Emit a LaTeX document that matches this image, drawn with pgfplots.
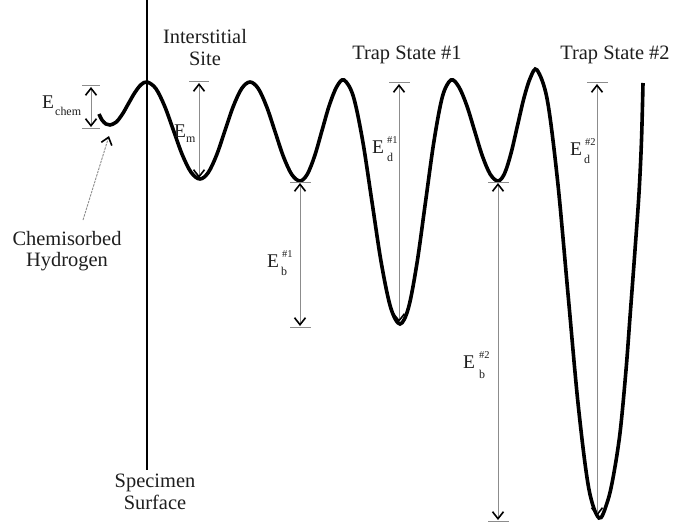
\documentclass[border=0pt]{standalone}
\usepackage{pgfplots}
\pgfplotsset{compat=1.18}
\usepackage{fontspec}
\setmainfont{Liberation Serif}
\usetikzlibrary{arrows.meta}
\definecolor{txt}{HTML}{1E1E1E}
\definecolor{shaft}{HTML}{8C8C8C}
\begin{document}
\begin{tikzpicture}[
  >={Straight Barb[length=7bp,width=11bp,line width=1.6bp,color=black]},
  lbl/.style={font=\fontsize{20.5}{23}\selectfont, text=txt, inner sep=0pt},
  elbl/.style={font=\fontsize{19.5}{22}\selectfont, text=txt, inner sep=0pt, anchor=base west},
  sub/.style={font=\fontsize{12}{13}\selectfont, text=txt, inner sep=0pt, anchor=base west},
  sup/.style={font=\fontsize{10.5}{12}\selectfont, text=txt, inner sep=0pt, anchor=base west},
  dim/.style={draw=shaft, line width=0.9bp},
  bar/.style={draw=shaft, line width=1bp},
]
\begin{axis}[
  hide axis, scale only axis,
  width=674bp, height=526bp,
  xmin=0, xmax=674, ymin=0, ymax=526,
  y dir=reverse, clip=false,
]
% specimen surface
\addplot[black, line width=2bp] coordinates {(147,0) (147,470)};
% potential energy curve
\addplot[black, line width=3.6bp, smooth, tension=0.55] coordinates {
 (99,114) (102,120) (106,124) (110,125)
 (116.2,122.1) (122.3,114.3) (128.5,103.5) (134.7,92.8) (140.8,84.9) (147,82)
 (155.8,88.5) (164.7,106.3) (173.5,130.5) (182.3,154.8) (191.2,172.5) (200,179)
 (208.3,172.5) (216.7,154.8) (225,130.5) (233.3,106.3) (241.7,88.5) (250,82)
 (258.3,88.6) (266.7,106.8) (275,131.5) (283.3,156.3) (291.7,174.4) (300,181)
 (307.3,174.2) (314.7,155.8) (322,130.5) (329.3,105.3) (336.7,86.8) (344,80)
 (353.3,96.3) (362.7,141) (372,202) (381.3,263) (390.7,307.7) (400,324)
 (408.5,307.7) (417,263) (425.5,202) (434,141) (442.5,96.3) (451,80)
 (458.8,86.8) (466.7,105.3) (474.5,130.5) (482.3,155.8) (490.2,174.2) (498,181)
 (504.5,173.6) (511,153.3) (517.5,125.5) (524,97.8) (530.5,77.4) (537,70)
 (547.3,100) (557.7,182) (568,294) (578.3,406) (588.7,488) (599,518)
 (607,503) (613,478) (620,433) (626,370) (630,317) (635,250) (639,193) (641.5,140) (643,83)
};
% ---- dimension arrows ----
% E_chem
\draw[dim, <->] (axis cs:91,87) -- (axis cs:91,127);
\draw[bar] (axis cs:82,86) -- (axis cs:100,86);
\draw[bar] (axis cs:82,128) -- (axis cs:100,128);
% E_m
\draw[dim, <->] (axis cs:199,83) -- (axis cs:199,178);
\draw[bar] (axis cs:189,82) -- (axis cs:209,82);
% E_b #1
\draw[dim, <->] (axis cs:300,183) -- (axis cs:300,326);
\draw[bar] (axis cs:290,182) -- (axis cs:311,182);
\draw[bar] (axis cs:290,327) -- (axis cs:311,327);
% E_d #1
\draw[dim, <->] (axis cs:399,84) -- (axis cs:399,322);
\draw[bar] (axis cs:389,83) -- (axis cs:410,83);
% E_b #2
\draw[dim, <->] (axis cs:498,183) -- (axis cs:498,520);
\draw[bar] (axis cs:488,182) -- (axis cs:509,182);
\draw[bar] (axis cs:488,521) -- (axis cs:509,521);
% E_d #2
\draw[dim, <->] (axis cs:597,84) -- (axis cs:597,516);
\draw[bar] (axis cs:587,83) -- (axis cs:608,83);
% chemisorbed pointer
\draw[draw=shaft, line width=0.9bp, dash pattern=on 2.5bp off 1bp, ->] (axis cs:83,220) -- (axis cs:109,136);
% ---- energy labels ----
\node[elbl] at (axis cs:42,108) {E};
\node[sub]  at (axis cs:55,115) {chem};
\node[elbl] at (axis cs:174,137) {E};
\node[sub]  at (axis cs:186,142) {m};
\node[elbl] at (axis cs:267,267) {E};
\node[sup]  at (axis cs:282,257) {\#1};
\node[sub]  at (axis cs:281,275) {b};
\node[elbl] at (axis cs:372,153) {E};
\node[sup]  at (axis cs:387,143) {\#1};
\node[sub]  at (axis cs:387,161) {d};
\node[elbl] at (axis cs:463,368) {E};
\node[sup]  at (axis cs:479,358) {\#2};
\node[sub]  at (axis cs:479,378) {b};
\node[elbl] at (axis cs:570,155) {E};
\node[sup]  at (axis cs:585,145) {\#2};
\node[sub]  at (axis cs:584,163) {d};
% ---- text labels ----
\node[lbl, anchor=base] at (axis cs:205,44) {Interstitial};
\node[lbl, anchor=base] at (axis cs:205,66) {Site};
\node[lbl, anchor=base] at (axis cs:407,60) {Trap State \#1};
\node[lbl, anchor=base] at (axis cs:615,60) {Trap State \#2};
\node[lbl, anchor=base] at (axis cs:67,245) {Chemisorbed};
\node[lbl, anchor=base] at (axis cs:67,266) {Hydrogen};
\node[lbl, anchor=base] at (axis cs:155,487) {Specimen};
\node[lbl, anchor=base] at (axis cs:155,509) {Surface};
\end{axis}
\pgfresetboundingbox
\useasboundingbox (current axis.south west) rectangle (current axis.north east);
\end{tikzpicture}
\end{document}
